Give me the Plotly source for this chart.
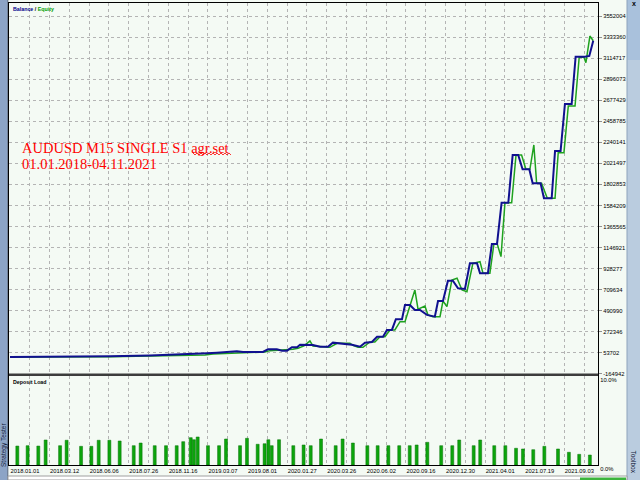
import plotly.graph_objects as go

# x = deal number (tester graph is drawn per deal, dates are only labels)
balance_x = [0, 25.3, 50.5, 70.7, 97.5, 99.5, 104.5, 114.6, 117.7, 127.8, 130.3, 134.8, 137.4, 139.9,
             142.4, 145.0, 146.5, 153.0, 156.6, 160.6, 163.1, 166.7, 172.7, 176.8, 179.3, 182.8, 185.4,
             188.4, 190.4, 192.9, 194.9, 198.0, 199.5, 202.0, 204.5, 207.1, 210.6, 214.6, 216.2, 218.7,
             221.2, 223.7, 226.3, 229.8, 232.3, 235.9, 237.4, 241.4, 243.4, 246.0, 248.3, 251.7, 253.9,
             256.7, 258.9, 262.3, 264.0, 268.0, 269.7, 273.6, 275.3, 278.1, 280.3, 283.7, 285.7, 290.4,
             292.6, 294.6]
balance = [10000, 12000, 19000, 27000, 43000, 50000, 56000, 71000, 63000, 63000, 91000, 91000, 77000,
           77000, 112000, 112000, 139000, 136000, 118000, 118000, 160000, 154000, 139000, 118000, 160000,
           167000, 222000, 222000, 292000, 292000, 403000, 403000, 551000, 551000, 500000, 500000, 448000,
           430000, 593000, 593000, 804000, 804000, 725000, 718000, 984000, 984000, 881000, 881000, 1185000,
           1185000, 1613000, 1613000, 2109000, 2109000, 1960000, 1960000, 1815000, 1815000, 1659000,
           1659000, 2150000, 2150000, 2638000, 2638000, 3129000, 3129000, 3137000, 3295000]

equity_x = [0, 25.3, 50.5, 70.7, 98.5, 102.5, 112.6, 116.2, 126.3, 128.8, 131.3, 141.4, 142.9, 145.5,
            148.5, 151.5, 153.0, 161.6, 165.2, 171.7, 173.2, 175.8, 178.3, 181.8, 184.3, 186.9, 189.4,
            191.9, 194.4, 197.0, 199.5, 204.5, 206.1, 209.6, 211.1, 213.6, 217.2, 218.7, 220.7, 223.2,
            225.8, 228.3, 230.8, 233.8, 237.4, 238.9, 242.4, 244.4, 246.0, 248.0, 250.0, 253.4, 255.6,
            258.4, 260.6, 262.6, 264.6, 266.0, 268.5, 271.4, 275.3, 276.9, 279.8, 282.0, 285.4, 287.5,
            289.9, 290.9, 292.9, 294.6]
equity = [10000, 9000, 14000, 21000, 32000, 43000, 50000, 56000, 56000, 63000, 77000, 84000, 91000,
          102000, 126000, 178000, 126000, 112000, 154000, 154000, 133000, 112000, 112000, 167000, 167000,
          222000, 222000, 292000, 292000, 378000, 378000, 707000, 507000, 541000, 448000, 430000, 430000,
          593000, 534000, 811000, 829000, 707000, 689000, 984000, 1001000, 881000, 881000, 1180000,
          1192000, 1053000, 1613000, 1613000, 2109000, 2109000, 1960000, 1960000, 2213000, 1815000,
          1815000, 1659000, 1659000, 2133000, 2133000, 2617000, 2617000, 3123000, 3123000, 3067000,
          3344000, 3295000]

# deposit load, %
load_x = [3.7, 8.9, 14.3, 18.0, 25.3, 28.6, 35.9, 41.1, 44.8, 50.2, 55.4, 62.5, 66.0, 73.1, 78.8, 84.2,
          87.5, 91.3, 92.9, 94.8, 100.0, 105.6, 109.1, 116.2, 119.7, 125.1, 128.6, 130.5, 132.2, 135.9,
          143.1, 148.3, 151.9, 157.1, 164.5, 168.0, 173.2, 180.5, 185.7, 191.1, 196.6, 201.9, 205.4,
          210.8, 217.8, 223.4, 226.9, 234.2, 237.5, 244.6, 250.2, 255.6, 259.1, 264.3, 269.9, 276.8,
          282.3, 287.5, 292.9]
load = [2.13, 2.17, 2.13, 2.81, 2.17, 2.78, 2.10, 2.10, 2.78, 2.78, 2.70, 2.17, 2.47, 2.17, 2.17, 2.17,
        2.62, 3.07, 2.84, 3.15, 2.17, 2.17, 2.92, 2.17, 3.0, 2.33, 2.39, 2.84, 2.17, 2.84, 2.17, 2.25,
        2.17, 2.92, 2.17, 2.92, 2.47, 2.17, 2.17, 2.17, 2.17, 2.17, 2.25, 2.55, 2.17, 2.17, 2.81, 2.17,
        2.81, 2.17, 2.17, 1.88, 1.80, 1.72, 2.10, 1.80, 1.43, 1.20, 1.12]

y_ticks = [-164942, 53702, 272346, 490990, 709634, 928277, 1146921, 1365565, 1584209, 1802853,
           2021497, 2240141, 2458785, 2677429, 2896073, 3114717, 3333360, 3552004]
date_ticks = [0, 20, 40, 60, 80, 100, 120, 140, 160, 180, 200, 220, 240, 260, 280]
date_labels = ['2018.01.01', '2018.03.12', '2018.06.06', '2018.07.26', '2018.11.16', '2019.03.07',
               '2019.08.01', '2020.01.27', '2020.03.26', '2020.06.02', '2020.09.16', '2020.12.30',
               '2021.04.01', '2021.07.19', '2021.09.03']

W, H = 640, 480
L, R, T, B = 9, 42, 3, 15


def px(x):
    return (x - L) / (W - L - R)


def py(y):
    return (H - B - y) / (H - T - B)


BG = '#F4FAF4'
GRID = '#B4B4B4'
small = dict(family='Liberation Sans', size=5.8, color='black')

fig = go.Figure()
fig.add_trace(go.Scatter(x=equity_x, y=equity, mode='lines', line=dict(color='#1FA21F', width=1.5),
                         xaxis='x', yaxis='y', hoverinfo='skip'))
fig.add_trace(go.Scatter(x=balance_x, y=balance, mode='lines', line=dict(color='#10108F', width=2),
                         xaxis='x', yaxis='y', hoverinfo='skip'))
fig.add_trace(go.Bar(x=load_x, y=load, width=1.5,
                     marker=dict(color='#0CA50C', line=dict(color='#067006', width=0.5)),
                     xaxis='x2', yaxis='y2', hoverinfo='skip'))

xcommon = dict(range=[-0.5, 297], tickvals=date_ticks, showgrid=True, gridcolor=GRID, griddash='dot',
               gridwidth=1, minor=dict(tick0=0, dtick=10, showgrid=True, gridcolor=GRID, griddash='dot'),
               showline=True, mirror=True, linecolor='black', linewidth=1, zeroline=False, ticks='')

fig.update_layout(
    width=W, height=H, margin=dict(l=L, r=R, t=T, b=B, autoexpand=False),
    paper_bgcolor=BG, plot_bgcolor=BG, showlegend=False,
    xaxis=dict(xcommon, domain=[0, 1], anchor='y', showticklabels=False),
    xaxis2=dict(xcommon, domain=[0, 1], anchor='y2', matches='x', showticklabels=True,
                ticktext=date_labels, ticklabelposition='outside right', tickfont=small),
    yaxis=dict(domain=[py(374), 1], anchor='x', side='right', range=[-165500, 3687000],
               tickvals=y_ticks, ticktext=[str(v) for v in y_ticks], tickfont=small,
               ticks='outside', ticklen=3, tickcolor='#909090', showgrid=True, gridcolor=GRID,
               griddash='dot', showline=True, mirror=True, linecolor='black', zeroline=False),
    yaxis2=dict(domain=[0, py(376)], anchor='x2', side='right', range=[0, 10],
                tickvals=[0, 10], ticktext=['0.0%', '10.0%'], tickfont=small,
                ticklabelposition='outside bottom', ticks='', showgrid=False,
                showline=True, mirror=True, linecolor='black', zeroline=False),
)

# wavy spell-check underline under "agr.set"
wave = 'M %f %f' % (px(193), py(153))
xx = 193
k = 0
while xx < 231:
    xx += 2
    k += 1
    wave += ' L %f %f' % (px(xx), py(155 if k % 2 else 153))

shapes = [
    dict(type='rect', xref='paper', yref='paper', x0=0, x1=1, y0=py(376), y1=py(373.5),
         fillcolor='#3C3C3C', line=dict(width=0), layer='above'),
    dict(type='rect', xref='paper', yref='paper', x0=px(0), x1=px(7.5), y0=py(0), y1=py(480),
         fillcolor='#8CA4C6', line=dict(width=0), layer='below'),
    dict(type='line', xref='paper', yref='paper', x0=px(7.8), x1=px(7.8), y0=py(0), y1=py(480),
         line=dict(color='#4F5F7A', width=1), layer='below'),
    dict(type='rect', xref='paper', yref='paper', x0=px(627), x1=px(640), y0=py(0), y1=py(480),
         fillcolor='#BACCDF', line=dict(width=0), layer='below'),
    dict(type='rect', xref='paper', yref='paper', x0=px(627), x1=px(640), y0=py(0), y1=py(60),
         fillcolor='#A9C1DC', line=dict(width=0), layer='below'),
    dict(type='line', xref='paper', yref='paper', x0=px(627), x1=px(627), y0=py(0), y1=py(480),
         line=dict(color='#8EA3BC', width=1), layer='below'),
    dict(type='rect', xref='paper', yref='paper', x0=px(8), x1=px(627), y0=py(476), y1=py(480),
         fillcolor='#FFFFFF', line=dict(color='#A0A0A0', width=1), layer='below'),
    dict(type='rect', xref='paper', yref='paper', x0=px(580), x1=px(626), y0=py(477.5), y1=py(480),
         fillcolor='#3CB43C', line=dict(width=0), layer='below'),
    dict(type='path', xref='paper', yref='paper', path=wave, line=dict(color='#FF0000', width=0.8)),
]

red = dict(family='Liberation Serif', size=14.5, color='#FF0000')
annotations = [
    dict(xref='paper', yref='paper', x=px(10.5), y=py(3.5), xanchor='left', yanchor='top', showarrow=False,
         text="<b><span style='color:#00008B'>Balance</span> / "
              "<span style='color:#00A000'>Equity</span></b>",
         font=dict(family='Liberation Sans', size=5.3, color='black')),
    dict(xref='paper', yref='paper', x=px(10.5), y=py(377), xanchor='left', yanchor='top', showarrow=False,
         text='<b>Deposit Load</b>', font=dict(family='Liberation Sans', size=5.3, color='black')),
    dict(xref='paper', yref='paper', x=px(20), y=py(147.5), xanchor='left', yanchor='middle', showarrow=False,
         text='AUDUSD M15 SINGLE S1 agr.set', font=red),
    dict(xref='paper', yref='paper', x=px(20), y=py(163.5), xanchor='left', yanchor='middle', showarrow=False,
         text='01.01.2018-04.11.2021', font=red),
    dict(xref='paper', yref='paper', x=px(4), y=py(445), xanchor='center', yanchor='middle', showarrow=False,
         text='Strategy Tester', textangle=-90,
         font=dict(family='Liberation Sans', size=6.5, color='#14223C')),
    dict(xref='paper', yref='paper', x=px(633.5), y=py(462), xanchor='center', yanchor='middle',
         showarrow=False, text='Toolbox', textangle=90,
         font=dict(family='Liberation Sans', size=6.5, color='#14223C')),
    dict(xref='paper', yref='paper', x=px(633.5), y=py(3), xanchor='center', yanchor='middle',
         showarrow=False, text='<b>x</b>', font=dict(family='Liberation Sans', size=7, color='black')),
]
fig.update_layout(shapes=shapes, annotations=annotations)

# the page body has a default 8px margin; drop it so the figure fills the window
fig.write_html("out.html", config={'displayModeBar': False},
               post_script="document.body.style.margin='0px';")
